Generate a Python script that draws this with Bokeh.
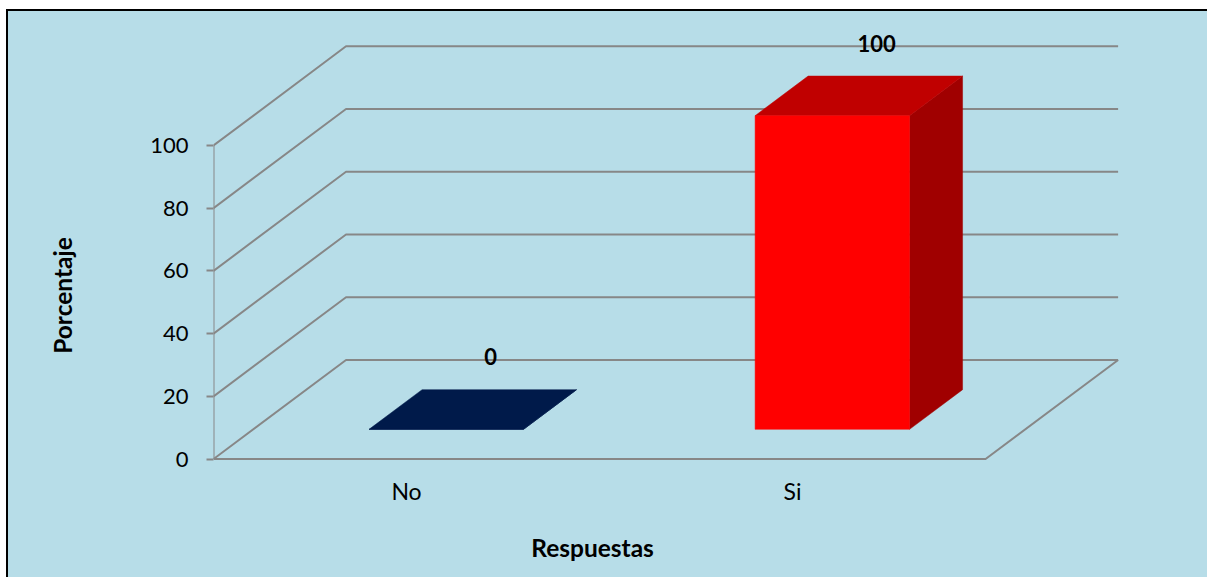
from bokeh.plotting import figure
from bokeh.models import Range1d, FixedTicker
from bokeh.core.properties import value
from bokeh.embed import file_html
from bokeh.resources import INLINE

# ---------------- data ----------------
categories = ["No", "Si"]
porcentajes = [0, 100]
y_ticks = [0, 20, 40, 60, 80, 100]
x_title = "Respuestas"
y_title = "Porcentaje"

# ---------------- style ----------------
BG = "#B7DDE8"
GRID = "#878787"
FRONT = ["#001A4A", "#FF0000"]
TOP = ["#001A4A", "#C00000"]
SIDE = ["#001A4A", "#A00000"]
FONT = "Lato"

DX = 0.3433      # depth offset (category units)
DY = 31.6        # depth offset (value units)
D0, D1 = 0.3, 0.7
BAR_W = 0.4
N = len(categories)

p = figure(width=1201, height=568, output_backend="svg", toolbar_location=None,
           x_range=Range1d(0, 2.58), y_range=Range1d(-38.4, 142.7),
           x_axis_location=None, y_axis_location="left",
           min_border_left=205, min_border_right=0, min_border_top=0, min_border_bottom=0,
           background_fill_color=None, border_fill_color=BG, outline_line_color=None)
p.grid.visible = False
p.margin = (9, 0, 0, 6)
p.styles = {"border-top": "2px solid black", "border-left": "2px solid black",
            "background-color": BG}

ax = p.yaxis[0]
ax.ticker = FixedTicker(ticks=y_ticks)
ax.axis_line_color = None
ax.major_tick_out = 7
ax.major_tick_in = 0
ax.major_tick_line_color = GRID
ax.major_tick_line_width = 2
ax.minor_tick_line_color = None
ax.major_label_text_font = FONT
ax.major_label_text_font_size = "22px"
ax.major_label_text_color = "black"
ax.major_label_standoff = 18
ax.axis_label = y_title
ax.axis_label_text_font = FONT
ax.axis_label_text_font_size = "24.5px"
ax.axis_label_text_font_style = "bold"
ax.axis_label_text_color = "black"
ax.axis_label_standoff = 70

# ---------------- walls / gridlines ----------------
gx, gy = [], []
for v in y_ticks:
    gx.append([0, DX, N + DX])
    gy.append([v, v + DY, v + DY])
gx.append([0, N, N + DX])
gy.append([0, 0, DY])
gx.append([0, 0])
gy.append([0, y_ticks[-1]])
p.multi_line(gx, gy, line_color=GRID, line_width=2)

# ---------------- 3D bars ----------------
fx, fy, tx, ty, sx, sy = [], [], [], [], [], []
for i, val in enumerate(porcentajes):
    cx = i + 0.5
    l, r = cx - BAR_W / 2, cx + BAR_W / 2
    a0x, a0y = D0 * DX, D0 * DY
    a1x, a1y = D1 * DX, D1 * DY
    fx.append([l + a0x, r + a0x, r + a0x, l + a0x])
    fy.append([a0y, a0y, val + a0y, val + a0y])
    tx.append([l + a0x, r + a0x, r + a1x, l + a1x])
    ty.append([val + a0y, val + a0y, val + a1y, val + a1y])
    sx.append([r + a0x, r + a1x, r + a1x, r + a0x])
    sy.append([a0y, a1y, val + a1y, val + a0y])

p.patches(sx, sy, fill_color=SIDE, line_color=SIDE, line_width=0.5)
p.patches(tx, ty, fill_color=TOP, line_color=TOP, line_width=0.5)
p.patches(fx, fy, fill_color=FRONT, line_color=FRONT, line_width=0.5)

# ---------------- data labels ----------------
p.text(x=[i + 0.5 + 0.65 * DX for i in range(N)],
       y=[v + 0.7 * DY for v in porcentajes],
       text=[str(v) for v in porcentajes],
       y_offset=-33, x_offset=-2, text_align="center", text_baseline="middle",
       text_font=value(FONT), text_font_size="22px", text_font_style="bold",
       text_color="black")

# ---------------- category labels ----------------
p.text(x=[i + 0.5 for i in range(N)], y=[0] * N, text=categories,
       y_offset=31.5, text_align="center", text_baseline="middle",
       text_font=value(FONT), text_font_size="23px", text_color="black")

p.text(x=[N / 2], y=[0], text=[x_title], x_offset=-7, y_offset=88.5,
       text_align="center", text_baseline="middle",
       text_font=value(FONT), text_font_size="24.5px", text_font_style="bold",
       text_color="black")

open("out.html", "w").write(file_html(p, INLINE))
